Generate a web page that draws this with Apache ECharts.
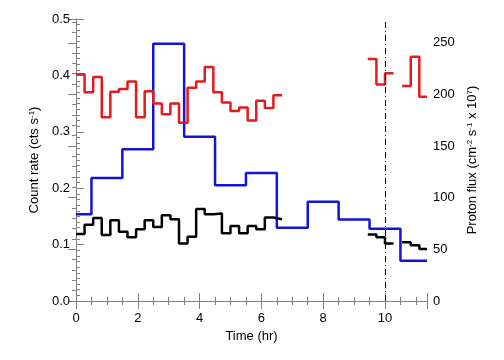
<!DOCTYPE html>
<html>
<head>
<meta charset="utf-8">
<script src="https://cdn.jsdelivr.net/npm/echarts@6/dist/echarts.min.js"></script>
<style>html,body{margin:0;padding:0;background:#fff}#c{width:504px;height:360px}</style>
</head>
<body>
<div id="c"></div>
<script>
// Bin width of count-rate data (hours) = 1000 s
const binHr = 1000 / 3600;
// Red count rate, segment 1 (starts at t=0), segment 2 (t=9.444), segment 3 (t=10.556)
const redSeg1 = [0.402, 0.370, 0.397, 0.326, 0.371, 0.376, 0.389, 0.326, 0.372, 0.350, 0.331, 0.350,
                 0.316, 0.378, 0.389, 0.415, 0.370, 0.352, 0.337, 0.343, 0.320, 0.355, 0.342, 0.365];
const redSeg2 = [0.429, 0.384, 0.404];
const redSeg3 = [0.381, 0.433, 0.362];
// Black count rate
const blackSeg1 = [0.119, 0.135, 0.147, 0.117, 0.143, 0.123, 0.113, 0.127, 0.143, 0.131, 0.152, 0.145,
                   0.102, 0.114, 0.163, 0.154, 0.155, 0.120, 0.133, 0.120, 0.133, 0.127, 0.148, 0.145];
const blackSeg2 = [0.118, 0.113, 0.102];
const blackSeg3 = [0.104, 0.099, 0.092];
// Start bin index of each segment
const seg1Start = 0, seg2Start = 34, seg3Start = 38;
// Blue proton flux, hourly bins centred on hours 0..11
const protonHours = [0, 1, 2, 3, 4, 5, 6, 7, 8, 9, 10, 11];
const protonFlux = [84, 119, 147, 249, 159, 112, 124, 71, 96, 79, 70, 39];

const xMax = 11.36;
const markTime = 10;

function stepData(vals, startIdx) {
  const pts = vals.map((v, i) => [(startIdx + i) * binHr, v]);
  pts.push([Math.min((startIdx + vals.length) * binHr, xMax), vals[vals.length - 1]]);
  return pts;
}
function protonData() {
  const pts = protonHours.map((h, i) => [Math.max(h - 0.5, 0), protonFlux[i]]);
  pts.push([xMax, protonFlux[protonFlux.length - 1]]);
  return pts;
}

const FONT = 'Liberation Sans';
const axisCol = '#808080';
const tickInside = (len) => ({ show: true, inside: true, length: len, lineStyle: { color: axisCol, width: 1 } });
const minorIn = (n) => ({ show: true, splitNumber: n, length: 4, lineStyle: { color: axisCol, width: 1 } });

const chart = echarts.init(document.getElementById('c'), null, { renderer: 'canvas' });
const lineBase = { type: 'line', step: 'end', symbol: 'none', animation: false, silent: true };

chart.setOption({
  backgroundColor: '#fff',
  animation: false,
  textStyle: { fontFamily: FONT },
  grid: { left: 76, right: 77, top: 19, bottom: 59 },
  xAxis: [{
    type: 'value', min: 0, max: xMax, interval: 2, position: 'bottom',
    name: 'Time (hr)', nameLocation: 'middle', nameGap: 27,
    nameTextStyle: { color: '#000', fontSize: 13, fontFamily: FONT },
    axisLine: { show: true, lineStyle: { color: axisCol, width: 1 } },
    axisTick: tickInside(8), minorTick: minorIn(4),
    axisLabel: { color: '#000', fontSize: 13, fontFamily: FONT, margin: 11, showMaxLabel: false },
    splitLine: { show: false }
  }, {
    type: 'value', min: 0, max: xMax, interval: 2, position: 'top',
    axisLine: { show: true, lineStyle: { color: axisCol, width: 1 } },
    axisTick: tickInside(8), minorTick: minorIn(4),
    axisLabel: { show: false }, splitLine: { show: false }
  }],
  yAxis: [{
    type: 'value', min: 0, max: 0.5, interval: 0.1, position: 'left',
    name: '{n|Count rate (cts s}{s|-1}{n|)}', nameLocation: 'middle', nameGap: 28, nameRotate: 90,
    nameTextStyle: { color: '#000', rich: {
      n: { fontSize: 13, fontFamily: FONT, color: '#000' },
      s: { fontSize: 8, fontFamily: FONT, color: '#000', verticalAlign: 'top', padding: [0, 0, 6, 0] } } },
    axisLine: { show: true, lineStyle: { color: axisCol, width: 1 } },
    axisTick: tickInside(8), minorTick: minorIn(10),
    axisLabel: { color: '#000', fontSize: 13, fontFamily: FONT, margin: 6, formatter: v => v.toFixed(1) },
    splitLine: { show: false }
  }, {
    type: 'value', min: 0, max: 273, interval: 50, position: 'right',
    name: '{n|Proton flux (cm}{s|-2}{n| s}{s|-1}{n| x 10}{s|7}{n|)}', nameLocation: 'middle', nameGap: 34, nameRotate: 90,
    nameTextStyle: { color: '#000', rich: {
      n: { fontSize: 13, fontFamily: FONT, color: '#000' },
      s: { fontSize: 8, fontFamily: FONT, color: '#000', verticalAlign: 'top', padding: [0, 0, 6, 0] } } },
    axisLine: { show: true, lineStyle: { color: axisCol, width: 1 } },
    axisTick: tickInside(8), minorTick: minorIn(5),
    axisLabel: { color: '#000', fontSize: 13, fontFamily: FONT, margin: 6, showMaxLabel: false },
    splitLine: { show: false }
  }],
  series: [
    Object.assign({}, lineBase, { name: 'protons', yAxisIndex: 1, data: protonData(),
      lineStyle: { color: '#1414d8', width: 2.5 }, z: 2 }),
    Object.assign({}, lineBase, { data: stepData(redSeg1, seg1Start), lineStyle: { color: '#e41a1c', width: 2.5 }, z: 3 }),
    Object.assign({}, lineBase, { data: stepData(redSeg2, seg2Start), lineStyle: { color: '#e41a1c', width: 2.5 }, z: 3 }),
    Object.assign({}, lineBase, { data: stepData(redSeg3, seg3Start), lineStyle: { color: '#e41a1c', width: 2.5 }, z: 3 }),
    Object.assign({}, lineBase, { data: stepData(blackSeg1, seg1Start), lineStyle: { color: '#000', width: 2.5 }, z: 3 }),
    Object.assign({}, lineBase, { data: stepData(blackSeg2, seg2Start), lineStyle: { color: '#000', width: 2.5 }, z: 3 }),
    Object.assign({}, lineBase, { data: stepData(blackSeg3, seg3Start), lineStyle: { color: '#000', width: 2.5 }, z: 3,
      markLine: { silent: true, symbol: 'none', label: { show: false },
        lineStyle: { color: '#000', width: 1, type: [6, 3, 1, 3] },
        data: [{ xAxis: markTime }] } })
  ]
});
</script>
</body>
</html>
